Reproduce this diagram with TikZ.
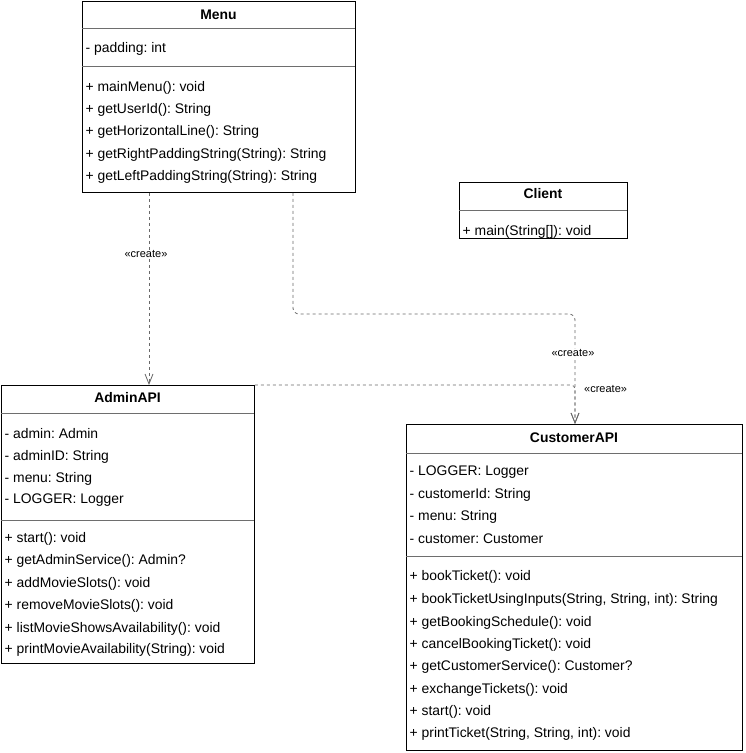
\documentclass[tikz,border=0pt]{standalone}
\usepackage{fontspec}
\setmainfont{Liberation Sans}
\usetikzlibrary{arrows.meta,calc}
\definecolor{edgegray}{RGB}{105,105,105}
\definecolor{sepgray}{RGB}{110,110,110}
\frenchspacing
\begin{document}
\begin{tikzpicture}[x=1pt,y=-1pt,
  classbox/.style={draw=black,line width=0.9pt,rectangle,inner sep=0pt,anchor=north west,fill=white},
  classtitle/.style={font=\fontsize{13.9}{16}\selectfont\bfseries,anchor=base,inner sep=0pt},
  member/.style={font=\fontsize{13.9}{16}\selectfont,anchor=base west,inner sep=0pt},
  sep/.style={draw=sepgray,line width=0.8pt},
  dep/.style={draw=edgegray,line width=0.8pt,dash pattern=on 3pt off 3pt,
    -{Straight Barb[length=10pt,width=8pt,line width=0.8pt]}},
  deplabel/.style={font=\fontsize{11}{13}\selectfont,inner sep=1pt}]

\useasboundingbox (0,0) rectangle (745,753);

% ---- Menu ----
\node[classbox,minimum width=273pt,minimum height=191pt] (menu) at (82,1) {};
\node[classtitle] (menuT) at (218.5,19) {Menu};
\draw[sep] (82,28) -- (355,28);
\node[member] (menuA1) at (85.5,52) {- padding: int};
\draw[sep] (82,66) -- (355,66);
\node[member] (menuM1) at (85.5,91) {+ mainMenu(): void};
\node[member] (menuM2) at (85.5,113) {+ getUserId(): String};
\node[member] (menuM3) at (85.5,135) {+ getHorizontalLine(): String};
\node[member] (menuM4) at (85.5,158) {+ getRightPaddingString(String): String};
\node[member] (menuM5) at (85.5,180) {+ getLeftPaddingString(String): String};

% ---- Client ----
\node[classbox,minimum width=168pt,minimum height=56pt] (client) at (459,182) {};
\node[classtitle] (clientT) at (543,198) {Client};
\draw[sep] (459,210) -- (627,210);
\node[member] (clientM1) at (462.5,235) {+ main(String[]): void};

% ---- AdminAPI ----
\node[classbox,minimum width=253pt,minimum height=278pt] (admin) at (1,385) {};
\node[classtitle] (adminT) at (127.5,402) {AdminAPI};
\draw[sep] (1,413) -- (254,413);
\node[member] (adminA1) at (4.5,438) {- admin: Admin};
\node[member] (adminA2) at (4.5,460) {- adminID: String};
\node[member] (adminA3) at (4.5,482) {- menu: String};
\node[member] (adminA4) at (4.5,503) {- LOGGER: Logger};
\draw[sep] (1,520) -- (254,520);
\node[member] (adminM1) at (4.5,542) {+ start(): void};
\node[member] (adminM2) at (4.5,564) {+ getAdminService(): Admin?};
\node[member] (adminM3) at (4.5,587) {+ addMovieSlots(): void};
\node[member] (adminM4) at (4.5,609) {+ removeMovieSlots(): void};
\node[member] (adminM5) at (4.5,632) {+ listMovieShowsAvailability(): void};
\node[member] (adminM6) at (4.5,653) {+ printMovieAvailability(String): void};

% ---- CustomerAPI ----
\node[classbox,minimum width=336pt,minimum height=326pt] (cust) at (406,424) {};
\node[classtitle] (custT) at (574,442) {CustomerAPI};
\draw[sep] (406,453) -- (742,453);
\node[member] (custA1) at (409.5,475) {- LOGGER: Logger};
\node[member] (custA2) at (409.5,498) {- customerId: String};
\node[member] (custA3) at (409.5,520) {- menu: String};
\node[member] (custA4) at (409.5,543) {- customer: Customer};
\draw[sep] (406,556) -- (742,556);
\node[member] (custM1) at (409.5,580) {+ bookTicket(): void};
\node[member] (custM2) at (409.5,603) {+ bookTicketUsingInputs(String, String, int): String};
\node[member] (custM3) at (409.5,626) {+ getBookingSchedule(): void};
\node[member] (custM4) at (409.5,648) {+ cancelBookingTicket(): void};
\node[member] (custM5) at (409.5,670) {+ getCustomerService(): Customer?};
\node[member] (custM6) at (409.5,693) {+ exchangeTickets(): void};
\node[member] (custM7) at (409.5,715) {+ start(): void};
\node[member] (custM8) at (409.5,737) {+ printTicket(String, String, int): void};

% ---- dependencies ----
\draw[dep] ($(menu.south west)+(67,0)$) -- node[deplabel,fill=white,pos=0.32,xshift=-3pt] (lbl1) {«create»} ($(admin.north west)+(148,0)$);

\draw[dep,rounded corners=6pt] ($(menu.south west)+(211,0)$) |- ($(cust.north west)+(169,-110)$) -- node[deplabel,fill=white,pos=0.355,xshift=-2pt] (lbl2) {«create»} ($(cust.north west)+(169,0)$);

\draw[dep,rounded corners=4pt] (admin.north east) -| ($(cust.north west)+(169,0)$);
\node[deplabel,anchor=west] (lbl3) at (583,389) {«create»};

\end{tikzpicture}
\end{document}
